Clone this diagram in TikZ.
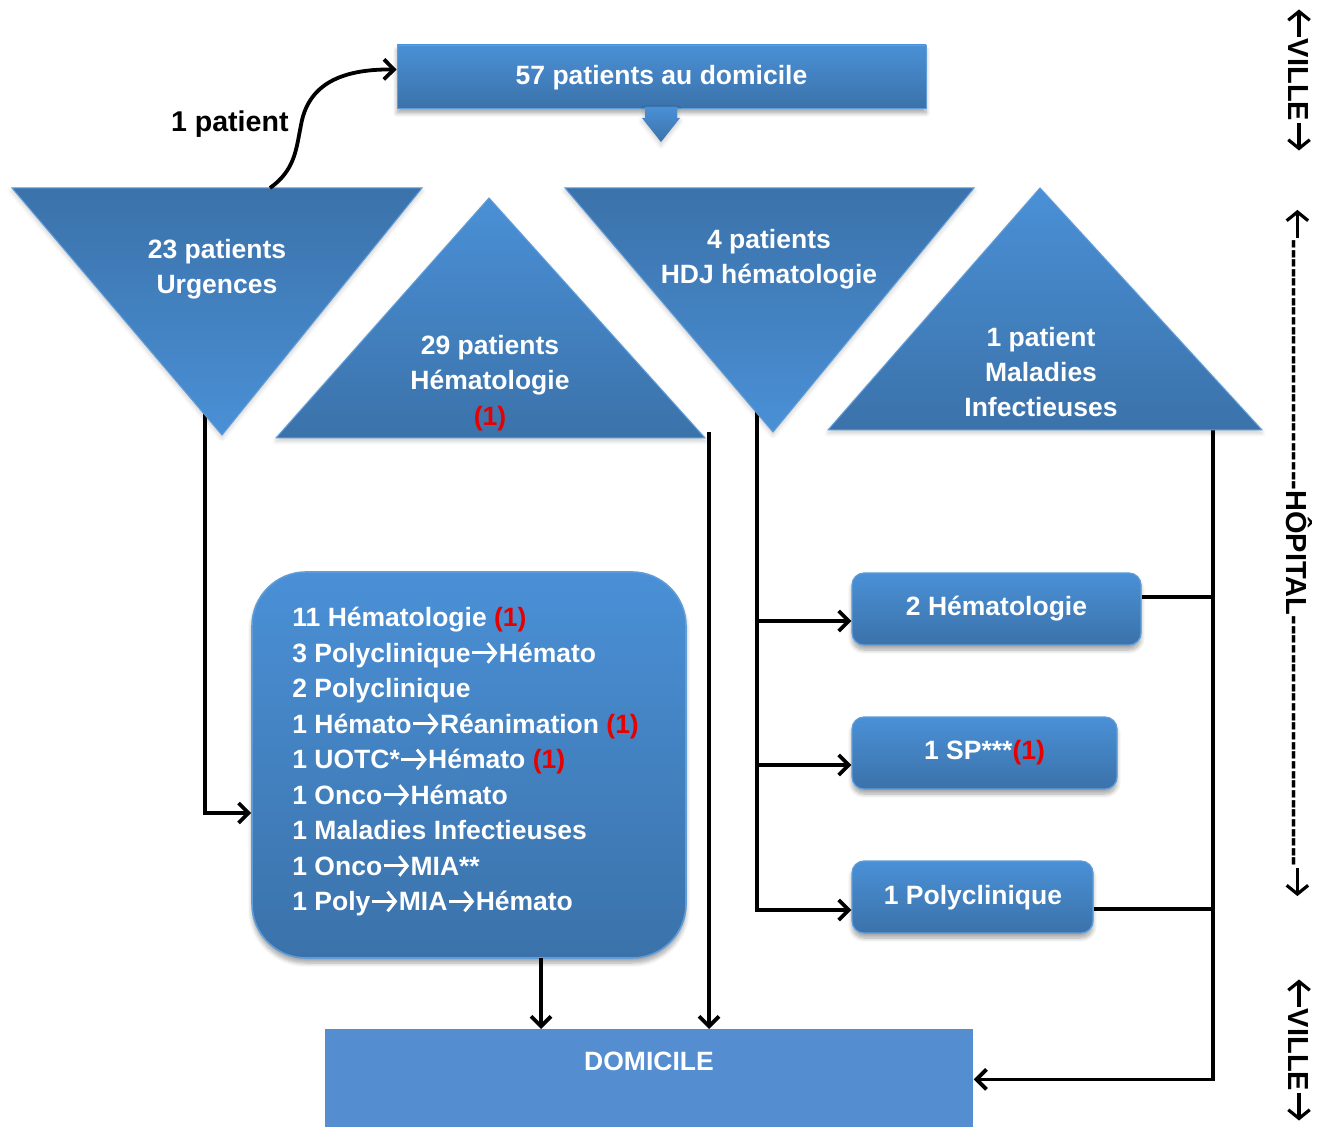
\documentclass[tikz,border=0pt]{standalone}
\usepackage{fontspec}
\setmainfont{Liberation Sans}
\newfontfamily\sidefont{Liberation Sans}
\usetikzlibrary{arrows.meta,calc,shadows.blur}

\definecolor{bluetop}{RGB}{74,144,214}
\definecolor{bluebot}{RGB}{59,114,170}
\definecolor{edgeblue}{RGB}{96,156,216}
\definecolor{domblue}{RGB}{85,141,209}
\definecolor{mark}{RGB}{230,0,0}

\newcommand{\rmk}[1]{\textcolor{mark}{#1}}
% arrow glyphs drawn at the size of the current font
\newcommand{\rarr}[1][white]{\tikz[x=1pt,y=1pt,baseline=0pt]\draw[#1,line width=0.11em,-{Straight Barb[length=0.3em,width=0.74em]}] (0.02em,0.36em) -- (0.98em,0.36em);}
\newcommand{\larr}[1][white]{\tikz[x=1pt,y=1pt,baseline=0pt]\draw[#1,line width=0.11em,-{Straight Barb[length=0.3em,width=0.74em]}] (0.98em,0.36em) -- (0.02em,0.36em);}

\tikzset{
  lbl/.style={text=white, font=\fontsize{13.25}{17.6}\selectfont\bfseries, align=center, inner sep=0pt},
  lightdown/.style={top color=bluetop, bottom color=bluebot},
  darkdown/.style={top color=bluebot, bottom color=bluetop},
  softshadow/.style={blur shadow={shadow xshift=0pt, shadow yshift=-2.5pt, shadow blur steps=6, shadow opacity=35}},
  faintshadow/.style={blur shadow={shadow xshift=0pt, shadow yshift=-1.5pt, shadow blur steps=5, shadow opacity=20}},
  flow/.style={line width=1.9pt, -{Straight Barb[length=5pt,width=10pt]}},
  link/.style={line width=1.9pt},
  card/.style={draw=edgeblue, line width=0.6pt, rounded corners=6pt, top color=bluetop, bottom color=bluebot, minimum height=36pt, inner sep=0pt, softshadow},
  sidelabel/.style={font=\fontsize{14.5}{14.5}\sidefont\bfseries, rotate=-90, inner sep=0pt},
}

\begin{document}
\begin{tikzpicture}[x=0.5pt,y=-0.5pt]
\useasboundingbox (0,0) rectangle (1327,1127);

% ---- triangle corners and exits ----
\coordinate (urgL) at (12,188);   \coordinate (urgR) at (422,188);  \coordinate (urgT) at (222,435);
\coordinate (hemL) at (276,438);  \coordinate (hemR) at (705,438);  \coordinate (hemT) at (489,198);
\coordinate (hdjL) at (565,188);  \coordinate (hdjR) at (974,188);  \coordinate (hdjT) at (773,432);
\coordinate (miL)  at (828,430);  \coordinate (miR)  at (1262,430); \coordinate (miT)  at (1040,188);
\coordinate (urgOut) at (205,412);
\coordinate (hemOut) at (709,432);
\coordinate (hdjOut) at (757,412);
\coordinate (miOut)  at (1213,430);
\coordinate (curlStart) at (270,188);

% ---- boxes ----
\node[lightdown, minimum width=264.5pt, minimum height=31.5pt, inner sep=0pt, softshadow,
      draw=edgeblue, line width=0.4pt] (home) at (661.5,76.5) {};
\node[lbl] (homeText) at (661.5,78) {57 patients au domicile};

\node[lightdown, draw=edgeblue, line width=0.8pt, rounded corners=27pt,
      minimum width=217pt, minimum height=193pt, inner sep=0pt, softshadow] (ward) at (469,765) {};
\node[lbl, align=left, anchor=west, font=\fontsize{13.25}{17.75}\selectfont\bfseries] (wardText) at (292,762) {%
11 Hématologie \rmk{(1)}\\
3 Polyclinique\rarr Hémato\\
2 Polyclinique\\
1 Hémato\rarr Réanimation \rmk{(1)}\\
1 UOTC*\rarr Hémato \rmk{(1)}\\
1 Onco\rarr Hémato\\
1 Maladies Infectieuses\\
1 Onco\rarr MIA**\\
1 Poly\rarr MIA\rarr Hémato};

\node[card, minimum width=144.5pt] (cardA) at (996.5,609) {};
\node[card, minimum width=132.5pt] (cardB) at (984.5,753) {};
\node[card, minimum width=120.5pt] (cardC) at (972.5,897) {};
\node[lbl] (cardAText) at (996.5,609) {2 Hématologie};
\node[lbl] (cardBText) at (984.5,753) {1 SP***\rmk{(1)}};
\node[lbl] (cardCText) at (973,898) {1 Polyclinique};

\node[fill=domblue, minimum width=324pt, minimum height=50pt, inner sep=0pt, anchor=north west] (dom) at (325,1029) {};
\node[lbl] (domText) at (649,1061) {DOMICILE};

% ---- connectors ----
\draw[flow] (urgOut) |- ($(ward.west)+(0,48)$);
\draw[flow] (hemOut) -- (hemOut |- dom.north);
\coordinate (wardOut) at (541,958);
\draw[flow] (wardOut) -- (wardOut |- dom.north);

\draw[flow] (hdjOut) |- ($(cardC.west)+(0,13)$);
\coordinate (aIn) at ($(cardA.west)+(0,12)$);
\coordinate (bIn) at ($(cardB.west)+(0,12)$);
\draw[flow] (aIn -| hdjOut) -- (aIn);
\draw[flow] (bIn -| hdjOut) -- (bIn);

\draw[flow] (miOut) |- (dom.east);
\coordinate (aOut) at ($(cardA.east)+(0,-12)$);
\coordinate (cOut) at ($(cardC.east)+(0,12)$);
\draw[link] (aOut) -- (aOut -| miOut);
\draw[link] (cOut) -- (cOut -| miOut);

% ---- triangles ----
\path[darkdown, draw=edgeblue, line width=0.5pt, faintshadow] (urgL) -- (urgR) -- (urgT) -- cycle;
\path[lightdown, draw=edgeblue, line width=0.5pt, faintshadow] (hemL) -- (hemT) -- (hemR) -- cycle;
\path[darkdown, draw=edgeblue, line width=0.5pt, faintshadow] (hdjL) -- (hdjR) -- (hdjT) -- cycle;
\path[lightdown, draw=edgeblue, line width=0.5pt, faintshadow] (miL) -- (miT) -- (miR) -- cycle;

\node[lbl] (urgText) at (217,269) {23 patients\\Urgences};
\node[lbl] (hemText) at (490,383) {29 patients\\Hématologie\\\rmk{(1)}};
\node[lbl] (hdjText) at (769,259) {4 patients\\HDJ hématologie};
\node[lbl] (miText)  at (1041,372) {1 patient\\Maladies\\Infectieuses};

% ---- block arrow under the home box ----
\path[lightdown, faintshadow] (645,107) -- (677,107) -- (677,118) -- (680,118) -- (661,142)
      -- (642,118) -- (645,118) -- cycle;

% ---- return to home ----
\draw[line width=1.9pt, -{Straight Barb[length=5pt,width=10pt]}]
  (curlStart) .. controls (295,170) and (296,150) .. (301,125)
  .. controls (308,85) and (340,69) .. ($(home.west)+(0,-7)$);
\node[font=\fontsize{14.3}{14.3}\selectfont\bfseries, anchor=east, inner sep=0pt] (oneText) at (289,124) {1 patient};

% ---- side scale ----
\node[sidelabel] (villeTop) at (1299,80) {\larr[black]VILLE\rarr[black]};
\node[sidelabel] (hopital) at (1299,553) {\larr[black]--------------------------HÔPITAL--------------------------\rarr[black]};
\node[sidelabel] (villeBot) at (1299,1050) {\larr[black]VILLE\rarr[black]};
\end{tikzpicture}
\end{document}
